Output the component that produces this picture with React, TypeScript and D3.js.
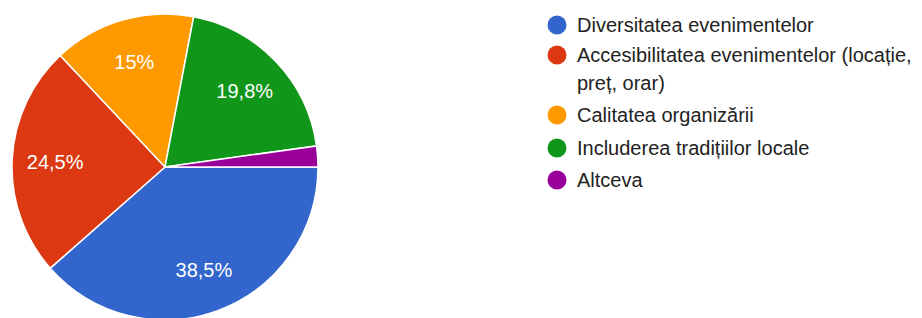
import * as d3 from 'd3';
import React, { useRef, useEffect } from 'react';

const categories = [
  'Diversitatea evenimentelor',
  'Accesibilitatea evenimentelor (locație, preț, orar)',
  'Calitatea organizării',
  'Includerea tradițiilor locale',
  'Altceva',
];
const values = [38.5, 24.5, 15, 19.8, 2.2];
const labels = ['38,5%', '24,5%', '15%', '19,8%', ''];
const legendLines = [
  ['Diversitatea evenimentelor'],
  ['Accesibilitatea evenimentelor (locație,', 'preț, orar)'],
  ['Calitatea organizării'],
  ['Includerea tradițiilor locale'],
  ['Altceva'],
];
const colors = ['#3366cc', '#dc3912', '#ff9900', '#109618', '#990099'];

const width = 922;
const height = 318;
const cx = 165;
const cy = 167;
const radius = 153;

function App() {
  const ref = useRef<SVGSVGElement>(null);

  useEffect(() => {
    const svg = d3.select(ref.current);
    svg.selectAll('*').remove();

    const data = categories.map((c, i) => ({ name: c, value: values[i], label: labels[i], idx: i }));

    // start at 3 o'clock, go clockwise
    const pie = d3.pie<any>()
      .sort(null)
      .value(d => d.value)
      .startAngle(Math.PI / 2)
      .endAngle(Math.PI / 2 + 2 * Math.PI);

    const arc = d3.arc<any>().innerRadius(0).outerRadius(radius);
    const labelArc = d3.arc<any>().innerRadius(110).outerRadius(110);

    const g = svg.append('g').attr('transform', `translate(${cx},${cy})`);

    const arcs = pie(data);

    g.selectAll('path')
      .data(arcs)
      .enter()
      .append('path')
      .attr('d', arc)
      .attr('fill', d => colors[d.data.idx])
      .attr('stroke', '#ffffff')
      .attr('stroke-width', 1.5);

    g.selectAll('text.lbl')
      .data(arcs)
      .enter()
      .append('text')
      .attr('class', 'lbl')
      .attr('transform', d => `translate(${labelArc.centroid(d)})`)
      .attr('text-anchor', 'middle')
      .attr('dy', '0.36em')
      .attr('fill', '#ffffff')
      .style('font-family', 'Arial, "Liberation Sans", sans-serif')
      .style('font-size', '20px')
      .text(d => d.data.label);

    // legend
    const rowY = [25, 55, 115, 148, 180];
    const lg = svg.append('g');
    legendLines.forEach((lines, i) => {
      lg.append('circle')
        .attr('cx', 557)
        .attr('cy', rowY[i])
        .attr('r', 9.5)
        .attr('fill', colors[i]);
      lines.forEach((line, j) => {
        lg.append('text')
          .attr('x', 577)
          .attr('y', rowY[i] + j * 28)
          .attr('dy', '0.36em')
          .attr('fill', '#222222')
          .style('font-family', 'Arial, "Liberation Sans", sans-serif')
          .style('font-size', '20px')
          .text(line);
      });
    });
  }, []);

  return (
    <svg
      ref={ref}
      width={width}
      height={height}
      style={{ position: 'absolute', left: 0, top: 0, background: '#ffffff' }}
    />
  );
}

export default App;
